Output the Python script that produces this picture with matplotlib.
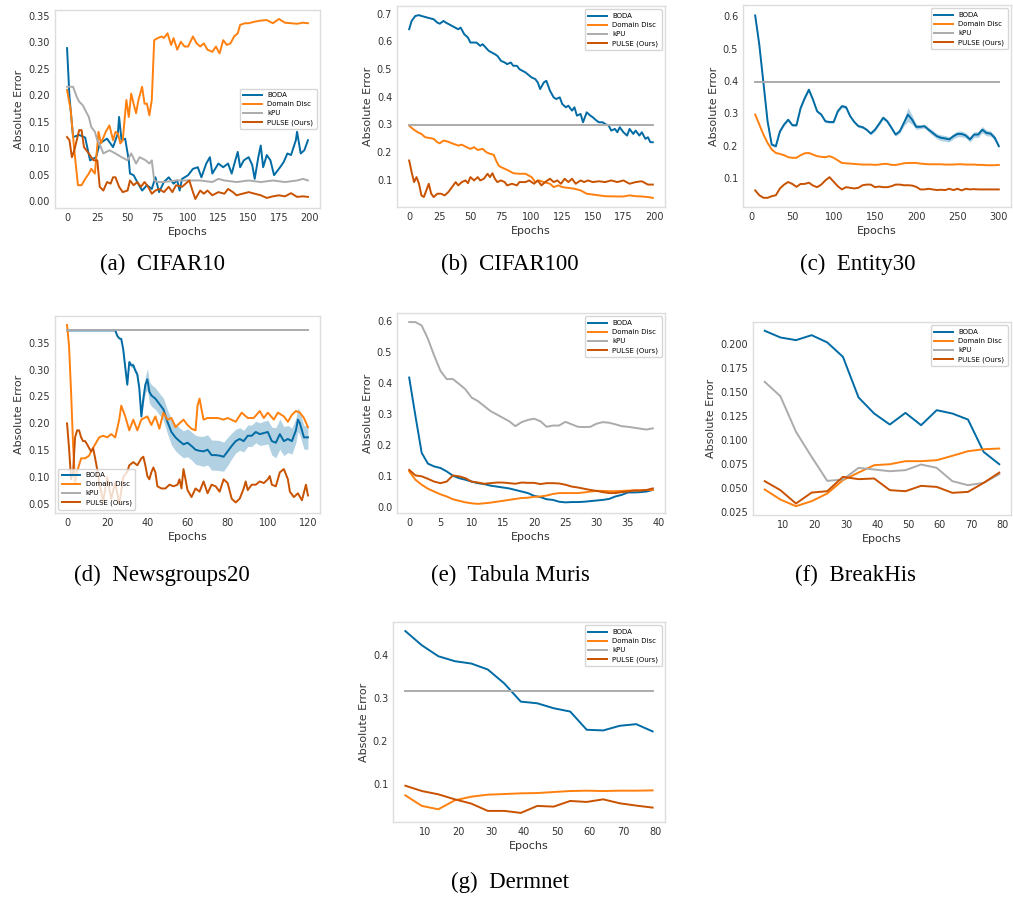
import matplotlib
matplotlib.use('Agg')
import matplotlib.pyplot as plt
from matplotlib.ticker import MultipleLocator

# colours (tableau colorblind)
col_boda = '#006BA4'
col_dd = '#FF800E'
col_kpu = '#ABABAB'
col_pulse = '#C85200'
labels = ['BODA', 'Domain Disc', 'kPU', 'PULSE (Ours)']

# ---- (a) CIFAR10 ----
a_boda_x = [0, 2, 5, 10, 15, 19, 24, 27, 33, 38, 42, 43, 45, 48, 51, 52, 55, 58, 62, 66,
            70, 73, 76, 80, 84, 88, 91, 93, 95, 100, 104, 108, 111, 115, 118, 120, 125, 129, 133, 136,
            139, 141, 143, 146, 150, 153, 155, 158, 160, 162, 165, 168, 171, 174, 176, 179, 182, 185, 189, 190,
            193, 196, 199]
a_boda_y = [0.289, 0.197, 0.121, 0.125, 0.120, 0.077, 0.083, 0.109, 0.118, 0.102,
            0.128, 0.159, 0.115, 0.118, 0.077, 0.052, 0.049, 0.036, 0.020, 0.030,
            0.023, 0.045, 0.017, 0.036, 0.045, 0.033, 0.039, 0.020, 0.042, 0.049,
            0.061, 0.064, 0.045, 0.071, 0.083, 0.052, 0.071, 0.064, 0.071, 0.052,
            0.077, 0.093, 0.064, 0.077, 0.083, 0.068, 0.042, 0.083, 0.105, 0.064,
            0.087, 0.077, 0.049, 0.058, 0.064, 0.074, 0.090, 0.087, 0.115, 0.131,
            0.090, 0.096, 0.115]
a_dd_x = [0, 3, 6, 9, 12, 15, 18, 20, 23, 26, 28, 32, 35, 38, 40, 42, 44, 46, 49, 51,
          53, 55, 57, 59, 62, 64, 66, 68, 70, 72, 75, 78, 80, 83, 86, 88, 91, 94, 97, 100,
          104, 107, 110, 113, 116, 120, 123, 126, 129, 132, 135, 138, 141, 143, 147, 150, 155, 160, 165, 170,
          175, 180, 185, 190, 195, 199]
a_dd_y = [0.210, 0.172, 0.096, 0.030, 0.030, 0.042, 0.052, 0.061, 0.052, 0.131,
          0.109, 0.131, 0.143, 0.115, 0.131, 0.128, 0.109, 0.115, 0.191, 0.159,
          0.203, 0.184, 0.166, 0.191, 0.216, 0.184, 0.184, 0.162, 0.191, 0.304,
          0.308, 0.311, 0.308, 0.317, 0.295, 0.308, 0.286, 0.301, 0.292, 0.292,
          0.311, 0.298, 0.292, 0.298, 0.286, 0.282, 0.292, 0.279, 0.304, 0.295,
          0.298, 0.311, 0.317, 0.333, 0.336, 0.336, 0.339, 0.341, 0.342, 0.336,
          0.344, 0.337, 0.336, 0.335, 0.337, 0.336]
a_kpu_x = [0, 5, 8, 10, 13, 15, 18, 20, 23, 25, 28, 30, 35, 40, 45, 50, 53, 57, 60, 65,
           68, 70, 72, 75, 80, 90, 100, 110, 120, 125, 130, 140, 150, 160, 170, 180, 190, 195, 199]
a_kpu_y = [0.216, 0.216, 0.197, 0.188, 0.181, 0.172, 0.159, 0.140, 0.131, 0.115,
           0.102, 0.090, 0.096, 0.090, 0.083, 0.077, 0.090, 0.071, 0.083, 0.077,
           0.071, 0.077, 0.039, 0.036, 0.036, 0.039, 0.039, 0.039, 0.036, 0.042,
           0.039, 0.036, 0.039, 0.036, 0.039, 0.036, 0.039, 0.042, 0.039]
a_pulse_x = [0, 2, 4, 6, 8, 10, 12, 14, 16, 18, 20, 22, 25, 27, 30, 33, 36, 38, 40, 43,
             46, 50, 52, 55, 58, 61, 64, 67, 70, 73, 76, 80, 84, 87, 90, 95, 98, 101, 104, 106,
             110, 113, 116, 120, 125, 130, 133, 137, 140, 145, 150, 155, 160, 165, 170, 175, 180, 185, 190, 195,
             199]
a_pulse_y = [0.121, 0.115, 0.083, 0.096, 0.115, 0.134, 0.134, 0.102, 0.096, 0.090,
             0.083, 0.077, 0.077, 0.027, 0.020, 0.036, 0.033, 0.045, 0.045, 0.027,
             0.017, 0.020, 0.039, 0.030, 0.036, 0.027, 0.036, 0.027, 0.014, 0.020,
             0.023, 0.017, 0.027, 0.017, 0.030, 0.027, 0.033, 0.039, 0.017, 0.004,
             0.020, 0.014, 0.020, 0.011, 0.017, 0.014, 0.023, 0.017, 0.011, 0.014,
             0.017, 0.014, 0.011, 0.006, 0.009, 0.011, 0.009, 0.015, 0.008, 0.009,
             0.008]

# ---- (b) CIFAR100 ----
b_boda_x = [0, 2, 5, 8, 10, 15, 20, 23, 25, 28, 30, 35, 40, 42, 45, 48, 50, 55, 58, 60,
            65, 70, 72, 75, 78, 80, 83, 85, 88, 90, 95, 100, 103, 105, 107, 110, 112, 115, 118, 120,
            123, 125, 128, 130, 133, 135, 137, 140, 142, 145, 148, 150, 153, 155, 158, 160, 163, 165, 168, 170,
            172, 175, 178, 180, 183, 185, 188, 190, 193, 195, 197, 199]
b_boda_y = [0.644, 0.674, 0.692, 0.695, 0.692, 0.686, 0.680, 0.668, 0.664, 0.674,
            0.668, 0.656, 0.644, 0.650, 0.626, 0.614, 0.596, 0.596, 0.584, 0.590,
            0.566, 0.554, 0.548, 0.530, 0.524, 0.518, 0.524, 0.512, 0.512, 0.500,
            0.488, 0.470, 0.464, 0.452, 0.428, 0.452, 0.458, 0.422, 0.398, 0.392,
            0.398, 0.374, 0.362, 0.368, 0.350, 0.362, 0.332, 0.338, 0.308, 0.344,
            0.332, 0.326, 0.314, 0.308, 0.308, 0.302, 0.296, 0.278, 0.284, 0.272,
            0.290, 0.272, 0.260, 0.284, 0.266, 0.278, 0.260, 0.272, 0.248, 0.254,
            0.236, 0.236]
b_dd_x = [0, 3, 7, 10, 13, 17, 20, 23, 25, 28, 31, 35, 40, 43, 47, 50, 53, 56, 60, 63,
          66, 69, 71, 73, 75, 78, 81, 85, 90, 95, 100, 103, 106, 110, 115, 118, 122, 125, 130, 135,
          140, 145, 150, 155, 160, 170, 175, 180, 185, 190, 195, 199]
b_dd_y = [0.296, 0.284, 0.272, 0.266, 0.254, 0.251, 0.248, 0.236, 0.232, 0.242,
          0.239, 0.232, 0.224, 0.227, 0.218, 0.212, 0.218, 0.208, 0.212, 0.200,
          0.194, 0.191, 0.170, 0.152, 0.146, 0.140, 0.134, 0.124, 0.122, 0.122,
          0.110, 0.092, 0.098, 0.092, 0.086, 0.074, 0.080, 0.074, 0.071, 0.068,
          0.062, 0.050, 0.047, 0.044, 0.041, 0.040, 0.040, 0.044, 0.041, 0.040,
          0.038, 0.035]
b_kpu_x = [0, 199]
b_kpu_y = [0.299, 0.299]
b_pulse_x = [0, 2, 4, 6, 8, 10, 12, 14, 16, 18, 20, 23, 26, 29, 32, 35, 38, 40, 43, 46,
             48, 50, 53, 56, 58, 61, 64, 66, 68, 70, 72, 75, 78, 80, 84, 88, 90, 95, 98, 102,
             105, 108, 111, 115, 118, 121, 124, 127, 130, 133, 136, 140, 143, 146, 150, 155, 160, 165, 170, 175,
             180, 185, 190, 195, 199]
b_pulse_y = [0.170, 0.128, 0.092, 0.110, 0.086, 0.044, 0.038, 0.062, 0.086, 0.050,
             0.038, 0.050, 0.050, 0.044, 0.056, 0.074, 0.092, 0.080, 0.092, 0.098,
             0.088, 0.110, 0.098, 0.110, 0.098, 0.104, 0.122, 0.110, 0.124, 0.104,
             0.092, 0.098, 0.092, 0.080, 0.086, 0.080, 0.092, 0.092, 0.098, 0.086,
             0.098, 0.080, 0.092, 0.104, 0.092, 0.098, 0.086, 0.104, 0.092, 0.104,
             0.086, 0.098, 0.092, 0.098, 0.092, 0.095, 0.092, 0.098, 0.092, 0.098,
             0.086, 0.092, 0.095, 0.083, 0.083]

# ---- (c) Entity30 ----
c_epochs = list(range(5, 301, 5))
c_boda_y = [0.603, 0.512, 0.394, 0.275, 0.203, 0.198, 0.244, 0.265, 0.280, 0.263,
            0.263, 0.316, 0.347, 0.373, 0.342, 0.306, 0.296, 0.275, 0.273, 0.273,
            0.306, 0.322, 0.319, 0.291, 0.273, 0.260, 0.257, 0.249, 0.237, 0.249,
            0.267, 0.286, 0.275, 0.255, 0.234, 0.244, 0.270, 0.296, 0.280, 0.258,
            0.258, 0.260, 0.249, 0.239, 0.229, 0.224, 0.222, 0.219, 0.229, 0.236,
            0.236, 0.231, 0.219, 0.234, 0.234, 0.249, 0.239, 0.237, 0.224, 0.198]
c_boda_sd = [0.004, 0.004, 0.004, 0.004, 0.004, 0.004, 0.004, 0.004, 0.004, 0.004,
             0.004, 0.004, 0.005, 0.005, 0.005, 0.004, 0.004, 0.004, 0.004, 0.004,
             0.004, 0.005, 0.005, 0.004, 0.004, 0.004, 0.004, 0.004, 0.004, 0.005,
             0.005, 0.006, 0.005, 0.005, 0.005, 0.006, 0.010, 0.022, 0.014, 0.008,
             0.006, 0.006, 0.007, 0.008, 0.008, 0.009, 0.009, 0.008, 0.008, 0.009,
             0.009, 0.008, 0.008, 0.009, 0.009, 0.010, 0.009, 0.008, 0.008, 0.006]
c_dd_y = [0.296, 0.265, 0.234, 0.208, 0.188, 0.177, 0.174, 0.170, 0.164, 0.162,
          0.162, 0.170, 0.176, 0.177, 0.172, 0.167, 0.165, 0.164, 0.167, 0.162,
          0.154, 0.146, 0.145, 0.144, 0.143, 0.142, 0.141, 0.141, 0.141, 0.140,
          0.141, 0.143, 0.143, 0.140, 0.140, 0.142, 0.145, 0.146, 0.146, 0.146,
          0.144, 0.143, 0.142, 0.142, 0.142, 0.142, 0.141, 0.141, 0.141, 0.142,
          0.142, 0.141, 0.141, 0.141, 0.140, 0.140, 0.139, 0.139, 0.139, 0.140]
c_kpu = 0.396
c_pulse_y = [0.061, 0.046, 0.038, 0.038, 0.043, 0.046, 0.067, 0.079, 0.087, 0.081,
             0.072, 0.081, 0.081, 0.085, 0.076, 0.071, 0.079, 0.092, 0.102, 0.088,
             0.074, 0.064, 0.071, 0.069, 0.067, 0.069, 0.077, 0.079, 0.079, 0.071,
             0.073, 0.071, 0.071, 0.074, 0.079, 0.079, 0.077, 0.077, 0.076, 0.072,
             0.064, 0.064, 0.066, 0.064, 0.062, 0.063, 0.062, 0.066, 0.062, 0.066,
             0.061, 0.066, 0.064, 0.065, 0.064, 0.064, 0.064, 0.064, 0.064, 0.064]

# ---- (d) Newsgroups20 ----
d_boda_x = [0, 24, 25, 26, 27, 28, 29, 30, 31, 32, 33, 34, 35, 36, 37, 38, 39, 40, 41, 42,
            44, 46, 48, 50, 52, 54, 56, 58, 60, 62, 64, 66, 68, 70, 72, 74, 76, 78, 80, 82,
            84, 86, 88, 90, 92, 94, 96, 98, 100, 102, 104, 106, 108, 110, 112, 114, 115, 116, 118, 120]
d_boda_y = [0.373, 0.373, 0.363, 0.358, 0.357, 0.337, 0.304, 0.272, 0.314, 0.308,
            0.308, 0.298, 0.291, 0.265, 0.213, 0.246, 0.272, 0.282, 0.259, 0.252,
            0.246, 0.236, 0.226, 0.203, 0.184, 0.174, 0.167, 0.161, 0.164, 0.158,
            0.151, 0.149, 0.148, 0.151, 0.141, 0.141, 0.140, 0.138, 0.148, 0.158,
            0.167, 0.171, 0.167, 0.177, 0.177, 0.184, 0.180, 0.182, 0.184, 0.167,
            0.164, 0.180, 0.167, 0.171, 0.167, 0.187, 0.207, 0.200, 0.174, 0.174]
d_boda_sd = [0.001, 0.001, 0.002, 0.002, 0.002, 0.003, 0.003, 0.004, 0.004, 0.004,
             0.004, 0.005, 0.005, 0.006, 0.008, 0.010, 0.015, 0.020, 0.020, 0.020,
             0.020, 0.020, 0.021, 0.022, 0.024, 0.025, 0.025, 0.025, 0.026, 0.026,
             0.027, 0.027, 0.028, 0.028, 0.028, 0.028, 0.028, 0.027, 0.026, 0.024,
             0.022, 0.021, 0.020, 0.020, 0.020, 0.020, 0.021, 0.022, 0.022, 0.026,
             0.028, 0.028, 0.027, 0.025, 0.024, 0.023, 0.022, 0.022, 0.022, 0.022]
d_dd_x = [0, 1, 2, 3, 4, 5, 7, 9, 11, 12, 14, 16, 18, 20, 22, 24, 26, 27, 29, 31,
          33, 35, 37, 40, 42, 44, 46, 48, 50, 52, 54, 56, 58, 60, 62, 64, 65, 66, 67, 68,
          70, 72, 75, 78, 80, 84, 87, 90, 93, 96, 98, 100, 103, 105, 108, 110, 112, 114, 116, 118,
          120]
d_dd_y = [0.383, 0.344, 0.259, 0.161, 0.089, 0.110, 0.135, 0.135, 0.140, 0.148,
          0.161, 0.174, 0.177, 0.174, 0.180, 0.174, 0.207, 0.233, 0.213, 0.187,
          0.207, 0.187, 0.207, 0.213, 0.197, 0.213, 0.190, 0.220, 0.207, 0.210,
          0.193, 0.200, 0.207, 0.197, 0.190, 0.187, 0.233, 0.246, 0.226, 0.207,
          0.210, 0.210, 0.210, 0.207, 0.210, 0.203, 0.220, 0.210, 0.210, 0.223,
          0.210, 0.220, 0.207, 0.220, 0.213, 0.203, 0.216, 0.223, 0.220, 0.210,
          0.193]
d_kpu_x = [0, 120]
d_kpu_y = [0.373, 0.373]
d_pulse_x = [0, 1, 2, 3, 4, 5, 6, 7, 8, 9, 10, 11, 12, 13, 14, 15, 16, 18, 20, 22,
             24, 26, 28, 30, 31, 33, 35, 37, 38, 39, 40, 41, 42, 43, 44, 45, 47, 49, 51, 53,
             55, 56, 57, 58, 59, 60, 62, 64, 66, 68, 70, 72, 74, 76, 78, 80, 82, 84, 86, 88,
             89, 90, 92, 94, 96, 98, 100, 101, 102, 104, 106, 108, 110, 111, 113, 115, 117, 119, 120]
d_pulse_y = [0.200, 0.154, 0.096, 0.109, 0.174, 0.187, 0.187, 0.174, 0.167, 0.167,
             0.161, 0.154, 0.148, 0.154, 0.135, 0.115, 0.090, 0.055, 0.100, 0.060,
             0.090, 0.050, 0.100, 0.110, 0.122, 0.128, 0.122, 0.135, 0.138, 0.122,
             0.102, 0.096, 0.109, 0.118, 0.109, 0.083, 0.079, 0.079, 0.086, 0.083,
             0.086, 0.096, 0.079, 0.115, 0.096, 0.076, 0.063, 0.079, 0.073, 0.092,
             0.070, 0.086, 0.083, 0.073, 0.096, 0.089, 0.060, 0.053, 0.060, 0.079,
             0.092, 0.076, 0.086, 0.086, 0.092, 0.089, 0.096, 0.102, 0.086, 0.083,
             0.109, 0.115, 0.096, 0.073, 0.063, 0.070, 0.057, 0.086, 0.066]

# ---- (e) Tabula Muris ----
e_epochs = list(range(40))
e_boda_y = [0.419, 0.295, 0.176, 0.141, 0.132, 0.127, 0.116, 0.102, 0.094, 0.089,
            0.083, 0.078, 0.075, 0.070, 0.067, 0.064, 0.061, 0.056, 0.051, 0.046,
            0.037, 0.033, 0.026, 0.024, 0.018, 0.016, 0.017, 0.017, 0.018, 0.020,
            0.022, 0.024, 0.027, 0.035, 0.040, 0.048, 0.048, 0.049, 0.051, 0.056]
e_dd_y = [0.116, 0.089, 0.073, 0.060, 0.051, 0.042, 0.035, 0.026, 0.021, 0.016,
          0.013, 0.011, 0.013, 0.015, 0.018, 0.021, 0.024, 0.027, 0.030, 0.031,
          0.034, 0.035, 0.038, 0.043, 0.046, 0.046, 0.046, 0.046, 0.048, 0.051,
          0.053, 0.053, 0.052, 0.052, 0.053, 0.054, 0.055, 0.055, 0.056, 0.056]
e_kpu_y = [0.598, 0.598, 0.587, 0.544, 0.490, 0.441, 0.414, 0.414, 0.398, 0.381,
           0.354, 0.343, 0.327, 0.311, 0.300, 0.289, 0.278, 0.262, 0.275, 0.282,
           0.286, 0.278, 0.260, 0.264, 0.264, 0.276, 0.268, 0.260, 0.259, 0.260,
           0.270, 0.275, 0.273, 0.268, 0.262, 0.260, 0.257, 0.254, 0.251, 0.255]
e_pulse_y = [0.121, 0.103, 0.100, 0.092, 0.083, 0.078, 0.083, 0.103, 0.100, 0.094,
             0.083, 0.080, 0.076, 0.078, 0.080, 0.080, 0.078, 0.076, 0.080, 0.079,
             0.079, 0.075, 0.078, 0.078, 0.077, 0.073, 0.067, 0.064, 0.060, 0.056,
             0.053, 0.049, 0.046, 0.046, 0.049, 0.051, 0.054, 0.054, 0.056, 0.061]

# ---- (f) BreakHis ----
f_epochs = list(range(4, 80, 5))
f_boda_y = [0.2143, 0.2073, 0.2045, 0.2097, 0.2021, 0.1871, 0.1446, 0.1278,
            0.1163, 0.1285, 0.1156, 0.1313, 0.1278, 0.1215, 0.0877, 0.0748]
f_dd_y = [0.0484, 0.0379, 0.0309, 0.0362, 0.0442, 0.0581, 0.0661, 0.0738,
          0.0748, 0.0780, 0.0780, 0.0790, 0.0836, 0.0884, 0.0905, 0.0912]
f_kpu_y = [0.1609, 0.1459, 0.1087, 0.0825, 0.0574, 0.0588, 0.0710, 0.0693,
           0.0675, 0.0686, 0.0745, 0.0710, 0.0571, 0.0529, 0.0553, 0.0644]
f_pulse_y = [0.0571, 0.0477, 0.0337, 0.0452, 0.0466, 0.0616, 0.0592, 0.0599,
             0.0477, 0.0466, 0.0522, 0.0511, 0.0449, 0.0459, 0.0553, 0.0661]

# ---- (g) Dermnet ----
g_epochs = list(range(4, 80, 5))
g_boda_y = [0.4565, 0.4233, 0.3978, 0.3862, 0.3807, 0.3668, 0.3343, 0.2918,
            0.2879, 0.2763, 0.2686, 0.2261, 0.2245, 0.2353, 0.2392, 0.2222]
g_dd_y = [0.0729, 0.0482, 0.0404, 0.0613, 0.0698, 0.0745, 0.0760, 0.0776,
          0.0783, 0.0807, 0.0830, 0.0838, 0.0830, 0.0838, 0.0838, 0.0845]
g_kpu = 0.317
g_pulse_y = [0.0954, 0.0830, 0.0753, 0.0636, 0.0536, 0.0366, 0.0366, 0.0319,
             0.0482, 0.0466, 0.0598, 0.0575, 0.0636, 0.0544, 0.0490, 0.0443]

W, H = 1013, 898
fig = plt.figure(figsize=(W / 100, H / 100), dpi=100)


def make_ax(x0, y0, x1, y1):
    ax = fig.add_axes([x0 / W, 1 - y1 / H, (x1 - x0) / W, (y1 - y0) / H])
    for s in ax.spines.values():
        s.set_color('#dddddd')
        s.set_linewidth(1.0)
    ax.tick_params(length=0, labelsize=7, colors='#333333', pad=3.5)
    ax.set_xlabel('Epochs', fontsize=8, color='#333333', labelpad=3)
    ax.set_ylabel('Absolute Error', fontsize=8, color='#333333', labelpad=3)
    return ax


def caption(text, cx, cy):
    fig.text(cx / W, 1 - cy / H, text, ha='center', va='center',
             family='Liberation Serif', fontsize=16.5, color='black')


def finish(ax, loc, xstep, ystep, alpha=0.8):
    ax.xaxis.set_major_locator(MultipleLocator(xstep))
    ax.yaxis.set_major_locator(MultipleLocator(ystep))
    ax.legend(loc=loc, fontsize=5, framealpha=alpha, edgecolor='#cccccc',
              handlelength=2.6, borderpad=0.5, labelspacing=0.45)


lw = 1.4

# (a)
ax = make_ax(55, 10, 320, 208)
ax.plot(a_boda_x, a_boda_y, color=col_boda, lw=lw, label=labels[0])
ax.plot(a_dd_x, a_dd_y, color=col_dd, lw=lw, label=labels[1])
ax.plot(a_kpu_x, a_kpu_y, color=col_kpu, lw=lw, label=labels[2])
ax.plot(a_pulse_x, a_pulse_y, color=col_pulse, lw=lw, label=labels[3])
finish(ax, 'center right', 25, 0.05)
ax.yaxis.set_major_formatter('{x:.2f}')
caption('(a)  CIFAR10', 162, 264)

# (b)
ax = make_ax(397, 6, 665, 207)
ax.plot(b_boda_x, b_boda_y, color=col_boda, lw=lw, label=labels[0])
ax.plot(b_dd_x, b_dd_y, color=col_dd, lw=lw, label=labels[1])
ax.plot(b_kpu_x, b_kpu_y, color=col_kpu, lw=lw, label=labels[2])
ax.plot(b_pulse_x, b_pulse_y, color=col_pulse, lw=lw, label=labels[3])
finish(ax, 'upper right', 25, 0.1)
ax.yaxis.set_major_formatter('{x:.1f}')
caption('(b)  CIFAR100', 510, 264)

# (c)
ax = make_ax(743, 5, 1011, 207)
lo = [m - s for m, s in zip(c_boda_y, c_boda_sd)]
hi = [m + s for m, s in zip(c_boda_y, c_boda_sd)]
ax.fill_between(c_epochs, lo, hi, color=col_boda, alpha=0.3, lw=0)
ax.plot(c_epochs, c_boda_y, color=col_boda, lw=lw, label=labels[0])
ax.plot(c_epochs, c_dd_y, color=col_dd, lw=lw, label=labels[1])
ax.plot(c_epochs, [c_kpu] * len(c_epochs), color=col_kpu, lw=lw, label=labels[2])
ax.plot(c_epochs, c_pulse_y, color=col_pulse, lw=lw, label=labels[3])
finish(ax, 'upper right', 50, 0.1)
ax.yaxis.set_major_formatter('{x:.1f}')
caption('(c)  Entity30', 858, 264)

# (d)
ax = make_ax(55, 316, 320, 513)
lo = [m - s for m, s in zip(d_boda_y, d_boda_sd)]
hi = [m + s for m, s in zip(d_boda_y, d_boda_sd)]
ax.fill_between(d_boda_x, lo, hi, color=col_boda, alpha=0.3, lw=0)
ax.plot(d_boda_x, d_boda_y, color=col_boda, lw=lw, label=labels[0])
ax.plot(d_dd_x, d_dd_y, color=col_dd, lw=lw, label=labels[1])
ax.plot(d_kpu_x, d_kpu_y, color=col_kpu, lw=lw, label=labels[2])
ax.plot(d_pulse_x, d_pulse_y, color=col_pulse, lw=lw, label=labels[3])
finish(ax, 'lower left', 20, 0.05)
ax.yaxis.set_major_formatter('{x:.2f}')
caption('(d)  Newsgroups20', 162, 575)

# (e)
ax = make_ax(397, 313, 665, 513)
ax.plot(e_epochs, e_boda_y, color=col_boda, lw=lw, label=labels[0])
ax.plot(e_epochs, e_dd_y, color=col_dd, lw=lw, label=labels[1])
ax.plot(e_epochs, e_kpu_y, color=col_kpu, lw=lw, label=labels[2])
ax.plot(e_epochs, e_pulse_y, color=col_pulse, lw=lw, label=labels[3])
finish(ax, 'upper right', 5, 0.1)
ax.yaxis.set_major_formatter('{x:.1f}')
caption('(e)  Tabula Muris', 510, 575)

# (f)
ax = make_ax(753, 322, 1011, 515)
ax.plot(f_epochs, f_boda_y, color=col_boda, lw=lw, label=labels[0])
ax.plot(f_epochs, f_dd_y, color=col_dd, lw=lw, label=labels[1])
ax.plot(f_epochs, f_kpu_y, color=col_kpu, lw=lw, label=labels[2])
ax.plot(f_epochs, f_pulse_y, color=col_pulse, lw=lw, label=labels[3])
finish(ax, 'upper right', 10, 0.025)
ax.yaxis.set_major_formatter('{x:.3f}')
caption('(f)  BreakHis', 855, 575)

# (g)
ax = make_ax(393, 622, 665, 822)
ax.plot(g_epochs, g_boda_y, color=col_boda, lw=lw, label=labels[0])
ax.plot(g_epochs, g_dd_y, color=col_dd, lw=lw, label=labels[1])
ax.plot(g_epochs, [g_kpu] * len(g_epochs), color=col_kpu, lw=lw, label=labels[2])
ax.plot(g_epochs, g_pulse_y, color=col_pulse, lw=lw, label=labels[3])
finish(ax, 'upper right', 10, 0.1)
ax.yaxis.set_major_formatter('{x:.1f}')
caption('(g)  Dermnet', 510, 882)

fig.savefig('out.png', dpi=100)
